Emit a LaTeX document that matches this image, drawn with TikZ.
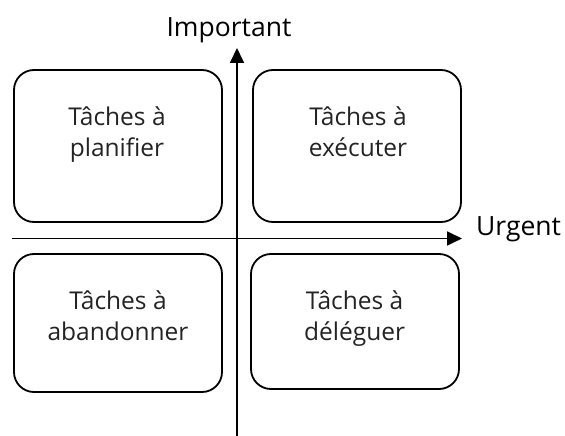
\documentclass[tikz,border=0pt]{standalone}
\usepackage{fontspec}
\setmainfont{Open Sans}
\usetikzlibrary{arrows.meta}
\definecolor{boxtext}{RGB}{35,35,35}
\begin{document}
\begin{tikzpicture}[x=1pt,y=-1pt,
  quadrant/.style={draw=black, line width=1.8pt, rounded corners=20pt,
    minimum width=208pt, inner sep=0pt},
  boxlabel/.style={font=\fontsize{24.5}{31.7}\selectfont, text=boxtext,
    align=center, inner sep=0pt, anchor=base},
  axislabel/.style={font=\fontsize{26.5}{30}\selectfont, text=black,
    inner sep=0pt, anchor=base},
  axis/.style={line width=1.8pt, -{Triangle[length=15pt,width=14pt]}}]
\useasboundingbox (0,0) rectangle (565,436);

% the four quadrants
\node[quadrant, minimum height=152pt] (plan) at (118,146) {};
\node[quadrant, minimum height=152pt] (exec) at (357,146) {};
\node[quadrant, minimum height=138pt] (aban) at (118,323) {};
\node[quadrant, minimum height=135pt] (dele) at (355,321.5) {};

% labels, placed by the baseline of their last line
\node[boxlabel] (plant) at (117,156.7) {Tâches à\\planifier};
\node[boxlabel] (exect) at (358,156.7) {Tâches à\\exécuter};
\node[boxlabel] (abant) at (118,340.7) {Tâches à\\abandonner};
\node[boxlabel] (delet) at (354.6,340.7) {Tâches à\\déléguer};

% axes
\coordinate (ybot) at (237,436);
\coordinate (ytop) at (237,48);
\coordinate (xleft) at (12,238.5);
\coordinate (xright) at (462,238.5);
\draw[axis] (ybot) -- (ytop);
\draw[axis] (xleft) -- (xright);

\node[axislabel] (imp) at (229,37) {Important};
\node[axislabel, anchor=base west] (urg) at (476,235) {Urgent};
\end{tikzpicture}
\end{document}
